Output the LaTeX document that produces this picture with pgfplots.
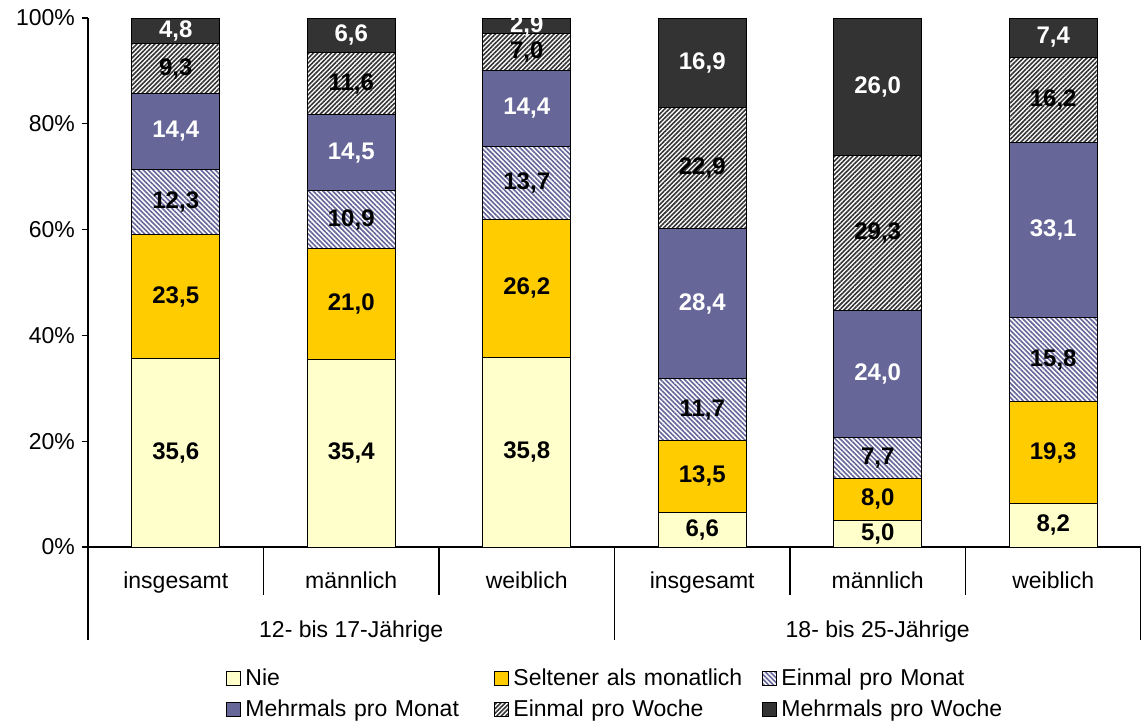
\documentclass[border=0pt]{standalone}
\usepackage{fontspec}
\setmainfont{Liberation Sans}
\usepackage{pgfplots}
\pgfplotsset{compat=1.18}
\usetikzlibrary{patterns.meta}

\definecolor{nie}{HTML}{FFFFCC}
\definecolor{selten}{HTML}{FFCC00}
\definecolor{lila}{HTML}{666699}
\definecolor{dunkel}{HTML}{333333}

\begin{document}
\begin{tikzpicture}
\useasboundingbox (-44pt,-88.5pt) rectangle (526.5pt,273.5pt);
\begin{axis}[
    ybar stacked,
    scale only axis,
    width=526.5pt, height=264.5pt,
    xmin=-0.5, xmax=5.5, ymin=0, ymax=100,
    bar width=44pt,
    axis x line*=bottom, axis y line*=left,
    axis line style={black, line width=0.6pt},
    ytick={0,20,...,100},
    yticklabels={0\%,20\%,40\%,60\%,80\%,100\%},
    ytick align=outside, major tick length=3pt,
    ytick style={black, line width=0.6pt},
    xtick={0,...,5},
    xticklabels={insgesamt,männlich,weiblich,insgesamt,männlich,weiblich},
    x tick style={draw=none},
    xticklabel style={yshift=-9pt},
    tick label style={font=\fontsize{11.5}{13.8}\selectfont},
    clip=false,
    nodes near coords={\pgfmathprintnumber[fixed,fixed zerofill,precision=1,use comma,assume math mode=true]{\pgfplotspointmeta}},
    every node near coord/.append style={font=\bfseries\fontsize{12}{14}\selectfont, anchor=center},
    legend columns=3,
    legend cell align=left,
    legend style={at={(0.5,0)}, anchor=north, xshift=7pt, yshift=-56.5pt, draw=none, fill=none,
        font=\fontsize{11.5}{13.8}\selectfont, row sep=2pt,
        /tikz/every even column/.append style={text width=122.5pt},
        /tikz/column 4/.append style={text width=117.5pt}},
    area legend,
    legend image code/.code={\draw[#1] (0pt,-3.5pt) rectangle (7pt,3.5pt);},
]
\addplot[fill=nie, draw=black, line width=0.5pt]
  coordinates {(0,35.6) (1,35.4) (2,35.8) (3,6.6) (4,5.0) (5,8.2)};
\addplot[fill=selten, draw=black, line width=0.5pt]
  coordinates {(0,23.5) (1,21.0) (2,26.2) (3,13.5) (4,8.0) (5,19.3)};
\addplot[fill=white, draw=black, line width=0.5pt,
  postaction={pattern color=lila, pattern={Lines[angle=-45,distance=1.7pt,line width=0.8pt]}}]
  coordinates {(0,12.3) (1,10.9) (2,13.7) (3,11.7) (4,7.7) (5,15.8)};
\addplot[fill=lila, draw=black, line width=0.5pt, every node near coord/.append style={white}]
  coordinates {(0,14.4) (1,14.5) (2,14.4) (3,28.4) (4,24.0) (5,33.1)};
\addplot[fill=white, draw=black, line width=0.5pt,
  postaction={pattern color=dunkel, pattern={Lines[angle=45,distance=1.6pt,line width=0.8pt]}}]
  coordinates {(0,9.3) (1,11.6) (2,7.0) (3,22.9) (4,29.3) (5,16.2)};
\addplot[fill=dunkel, draw=black, line width=0.5pt, every node near coord/.append style={white}]
  coordinates {(0,4.8) (1,6.6) (2,2.9) (3,16.9) (4,26.0) (5,7.4)};
\legend{Nie, Seltener als monatlich, Einmal pro Monat, Mehrmals pro Monat, Einmal pro Woche, Mehrmals pro Woche}

% Trennlinien unter der Achse
\draw[black, line width=0.6pt] (axis cs:0.5,0) -- ++(0pt,-24pt);
\draw[black, line width=0.6pt] (axis cs:1.5,0) -- ++(0pt,-24pt);
\draw[black, line width=0.6pt] (axis cs:3.5,0) -- ++(0pt,-24pt);
\draw[black, line width=0.6pt] (axis cs:4.5,0) -- ++(0pt,-24pt);
\draw[black, line width=0.6pt] (axis cs:-0.5,0) -- ++(0pt,-46.5pt);
\draw[black, line width=0.6pt] (axis cs:2.5,0) -- ++(0pt,-46.5pt);
\draw[black, line width=0.6pt] (axis cs:5.5,0) -- ++(0pt,-46.5pt);
\node[font=\fontsize{11.5}{13.8}\selectfont] at (axis cs:1,0) [yshift=-42.5pt] {12- bis 17-Jährige};
\node[font=\fontsize{11.5}{13.8}\selectfont] at (axis cs:4,0) [yshift=-42.5pt] {18- bis 25-Jährige};
\end{axis}
\end{tikzpicture}
\end{document}
